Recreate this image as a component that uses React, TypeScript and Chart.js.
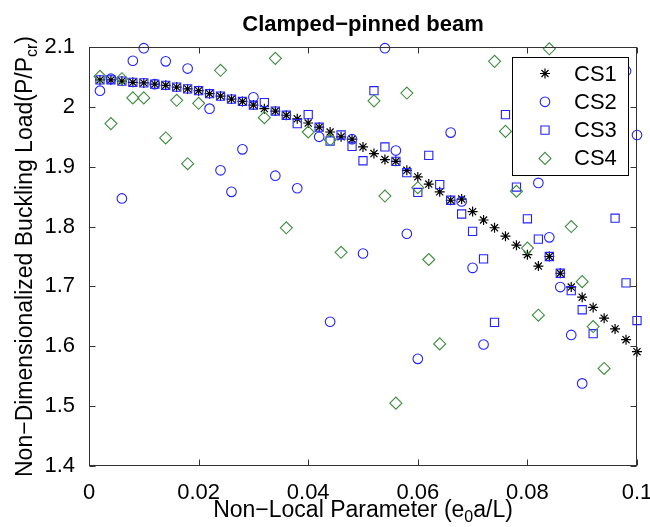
import React, { useEffect, useRef } from 'react';
import { Chart, registerables } from 'chart.js';
import { drawPoint } from 'chart.js/helpers';

Chart.register(...registerables);

// ---------- data ----------
const xValues = [
  0.002, 0.004, 0.006, 0.008, 0.01, 0.012, 0.014, 0.016, 0.018, 0.02,
  0.022, 0.024, 0.026, 0.028, 0.03, 0.032, 0.034, 0.036, 0.038, 0.04,
  0.042, 0.044, 0.046, 0.048, 0.05, 0.052, 0.054, 0.056, 0.058, 0.06,
  0.062, 0.064, 0.066, 0.068, 0.07, 0.072, 0.074, 0.076, 0.078, 0.08,
  0.082, 0.084, 0.086, 0.088, 0.09, 0.092, 0.094, 0.096, 0.098, 0.1,
];

const cs1 = [
  2.045, 2.045, 2.043, 2.041, 2.04, 2.038, 2.036, 2.033, 2.03, 2.027,
  2.022, 2.018, 2.013, 2.009, 2.003, 1.997, 1.993, 1.986, 1.98, 1.973,
  1.966, 1.958, 1.95, 1.946, 1.933, 1.922, 1.912, 1.909, 1.894, 1.883,
  1.871, 1.858, 1.844, 1.846, 1.825, 1.811, 1.798, 1.784, 1.769, 1.753,
  1.734, 1.75, 1.722, 1.699, 1.682, 1.665, 1.647, 1.629, 1.611, 1.591,
];

const cs2 = [
  2.027, 2.047, 1.847, 2.077, 2.098, 2.038, 2.076, null, 2.064, null,
  1.997, 1.894, 1.858, 1.929, 2.016, null, 1.885, null, 1.864, null,
  1.95, 1.641, null, 1.946, 1.755, null, 2.098, 1.927, 1.788, 1.579,
  null, null, 1.957, 1.842, 1.731, 1.603, null, null, null, null,
  1.873, 1.782, 1.699, 1.619, 1.538, null, null, null, 2.06, 1.953,
];

const cs3 = [
  2.045, 2.045, 2.043, 2.041, 2.04, 2.038, 2.036, 2.033, 2.03, 2.027,
  2.022, 2.018, 2.013, 2.009, 2.003, 2.007, 1.993, 1.986, 1.972, 1.987,
  1.966, 1.943, 1.953, 1.934, 1.91, 2.027, 1.933, 1.909, 1.89, 1.857,
  1.919, 1.87, 1.844, 1.821, 1.792, 1.746, 1.64, 1.987, 1.866, 1.813,
  1.779, 1.75, 1.722, 1.693, 1.661, 1.621, null, 1.814, 1.706, 1.643,
];

const cs4 = [
  2.051, 1.972, 2.047, 2.015, 2.015, null, 1.948, 2.011, 1.905, 2.006,
  null, 2.061, null, null, null, 1.982, 2.081, 1.798, null, 1.958,
  null, 1.945, 1.757, null, null, 2.01, 1.851, 1.505, 2.023, 1.865,
  1.745, 1.604, null, null, null, null, 2.076, 1.959, 1.859, 1.764,
  1.652, 2.097, null, 1.8, 1.708, 1.633, 1.563, null, null, null,
];

const seriesNames = ['CS1', 'CS2', 'CS3', 'CS4'];
const xTicks = [0, 0.02, 0.04, 0.06, 0.08, 0.1];
const xTickLabels = ['0', '0.02', '0.04', '0.06', '0.08', '0.1'];
const yTicks = [1.4, 1.5, 1.6, 1.7, 1.8, 1.9, 2.0, 2.1];
const yTickLabels = ['1.4', '1.5', '1.6', '1.7', '1.8', '1.9', '2', '2.1'];
const titleText = 'Clamped\u2212pinned beam';

// ---------- styling ----------
const FONT = '"Liberation Sans", Arial, Helvetica, sans-serif';
const BLUE = '#2222ff';
const GREEN = '#3f8c3f';
const seriesStyles = [
  { color: '#000000', pointStyle: 'star', radius: 5, width: 1.2 },
  { color: BLUE, pointStyle: 'circle', radius: 4.8, width: 1.1 },
  { color: BLUE, pointStyle: 'rect', radius: 5.8, width: 1.1 },
  { color: GREEN, pointStyle: 'rectRot', radius: 6, width: 1.1 },
];

function toPoints(ys: (number | null)[]) {
  const out: { x: number; y: number }[] = [];
  xValues.forEach((x, i) => {
    const y = ys[i];
    if (y !== null && y !== undefined) out.push({ x, y });
  });
  return out;
}

function drawTextWithSub(
  ctx: CanvasRenderingContext2D,
  parts: { text: string; sub: boolean }[],
  cx: number,
  baseline: number,
  size: number,
  subSize: number,
  subShift: number
) {
  const widths = parts.map((p) => {
    ctx.font = `${p.sub ? subSize : size}px ${FONT}`;
    return ctx.measureText(p.text).width;
  });
  const total = widths.reduce((a, b) => a + b, 0);
  let x = cx - total / 2;
  ctx.textAlign = 'left';
  ctx.textBaseline = 'alphabetic';
  parts.forEach((p, i) => {
    ctx.font = `${p.sub ? subSize : size}px ${FONT}`;
    ctx.fillText(p.text, x, baseline + (p.sub ? subShift : 0));
    x += widths[i];
  });
}

const overlayPlugin = {
  id: 'overlay',
  afterDatasetsDraw(chart: any) {
    const { ctx, chartArea, scales } = chart;
    const { left, right, top, bottom } = chartArea;
    const xs = scales.x;
    const ys = scales.y;
    ctx.save();
    // frame
    ctx.strokeStyle = '#333333';
    ctx.lineWidth = 1;
    const L = Math.round(left) + 0.5;
    const R = Math.round(right) - 0.5;
    const T = Math.round(top) + 0.5;
    const B = Math.round(bottom) - 0.5;
    ctx.strokeRect(L, T, R - L, B - T);
    // inward ticks
    const tl = 6;
    ctx.beginPath();
    xTicks.forEach((v) => {
      const px = Math.round(xs.getPixelForValue(v)) + 0.5;
      ctx.moveTo(px, B);
      ctx.lineTo(px, B - tl);
      ctx.moveTo(px, T);
      ctx.lineTo(px, T + tl);
    });
    yTicks.forEach((v) => {
      const py = Math.round(ys.getPixelForValue(v)) + 0.5;
      ctx.moveTo(L, py);
      ctx.lineTo(L + tl, py);
      ctx.moveTo(R, py);
      ctx.lineTo(R - tl, py);
    });
    ctx.stroke();

    // legend
    const lw = 116;
    const lh = 118;
    const lx = Math.round(right) - 9 - lw;
    const ly = Math.round(top) + 10;
    ctx.fillStyle = '#ffffff';
    ctx.fillRect(lx, ly, lw, lh);
    ctx.strokeStyle = '#000000';
    ctx.lineWidth = 1;
    ctx.strokeRect(lx + 0.5, ly + 0.5, lw, lh);
    seriesNames.forEach((name, i) => {
      const st = seriesStyles[i];
      const cy = ly + 16.5 + i * 28.3;
      ctx.strokeStyle = st.color;
      ctx.fillStyle = 'rgba(0,0,0,0)';
      ctx.lineWidth = st.width;
      drawPoint(ctx, { pointStyle: st.pointStyle, radius: st.radius, borderWidth: st.width, rotation: 0 } as any, lx + 33, cy);
      ctx.fillStyle = '#000000';
      ctx.font = `22px ${FONT}`;
      ctx.textAlign = 'left';
      ctx.textBaseline = 'middle';
      ctx.fillText(name, lx + 62, cy + 1);
    });
    ctx.restore();
  },
  afterDraw(chart: any) {
    const { ctx, chartArea } = chart;
    const { left, right, top, bottom } = chartArea;
    const cx = (left + right) / 2;
    const cy = (top + bottom) / 2;
    ctx.save();
    ctx.fillStyle = '#000000';
    // title
    ctx.font = `bold 22px ${FONT}`;
    ctx.textAlign = 'center';
    ctx.textBaseline = 'alphabetic';
    ctx.fillText(titleText, cx, 31);
    // x title
    drawTextWithSub(
      ctx,
      [
        { text: 'Non\u2212Local Parameter (e', sub: false },
        { text: '0', sub: true },
        { text: 'a/L)', sub: false },
      ],
      cx,
      517,
      23,
      16,
      5
    );
    // y title
    ctx.translate(32, cy);
    ctx.rotate(-Math.PI / 2);
    drawTextWithSub(
      ctx,
      [
        { text: 'Non\u2212Dimensionalized Buckling Load(P/P', sub: false },
        { text: 'cr', sub: true },
        { text: ')', sub: false },
      ],
      0,
      0,
      23,
      16,
      5
    );
    ctx.restore();
  },
};

export default function App() {
  const canvasRef = useRef<HTMLCanvasElement | null>(null);

  useEffect(() => {
    const canvas = canvasRef.current;
    if (!canvas) return;
    const allSeries = [cs1, cs2, cs3, cs4];
    const datasets = allSeries.map((ys, i) => {
      const st = seriesStyles[i];
      return {
        label: seriesNames[i],
        data: toPoints(ys),
        showLine: false,
        pointStyle: st.pointStyle,
        pointRadius: st.radius,
        pointHoverRadius: st.radius,
        pointBorderWidth: st.width,
        pointBorderColor: st.color,
        pointBackgroundColor: 'rgba(0,0,0,0)',
        borderColor: st.color,
        backgroundColor: 'rgba(0,0,0,0)',
        clip: false,
        order: 4 - i,
      };
    });

    const chart = new Chart(canvas, {
      type: 'scatter',
      data: { datasets } as any,
      options: {
        animation: false,
        responsive: false,
        maintainAspectRatio: false,
        events: [],
        layout: { padding: { top: 47, right: 13, bottom: 0, left: 0 } },
        plugins: {
          legend: { display: false },
          title: { display: false },
          tooltip: { enabled: false },
        },
        scales: {
          x: {
            type: 'linear',
            min: 0,
            max: 0.1,
            grid: { display: false },
            border: { display: false },
            afterBuildTicks: (s: any) => {
              s.ticks = xTicks.map((v) => ({ value: v }));
            },
            afterFit: (s: any) => {
              s.height = 61;
              s.paddingLeft = 0;
              s.paddingRight = 0;
            },
            ticks: {
              autoSkip: false,
              maxRotation: 0,
              padding: 6,
              color: '#000000',
              font: { family: FONT, size: 22 },
              callback: (_v: any, i: number) => xTickLabels[i],
            },
          },
          y: {
            type: 'linear',
            min: 1.4,
            max: 2.1,
            grid: { display: false },
            border: { display: false },
            afterBuildTicks: (s: any) => {
              s.ticks = yTicks.map((v) => ({ value: v }));
            },
            afterFit: (s: any) => {
              s.width = 89;
              s.paddingTop = 0;
              s.paddingBottom = 0;
            },
            ticks: {
              autoSkip: false,
              padding: 6,
              color: '#000000',
              font: { family: FONT, size: 22 },
              callback: (_v: any, i: number) => yTickLabels[i],
            },
          },
        },
      } as any,
      plugins: [overlayPlugin],
    });
    return () => chart.destroy();
  }, []);

  return (
    <div style={{ position: 'absolute', left: 0, top: 0, width: 650, height: 527, background: '#ffffff' }}>
      <canvas ref={canvasRef} width={650} height={527} style={{ display: 'block', width: 650, height: 527 }} />
    </div>
  );
}
